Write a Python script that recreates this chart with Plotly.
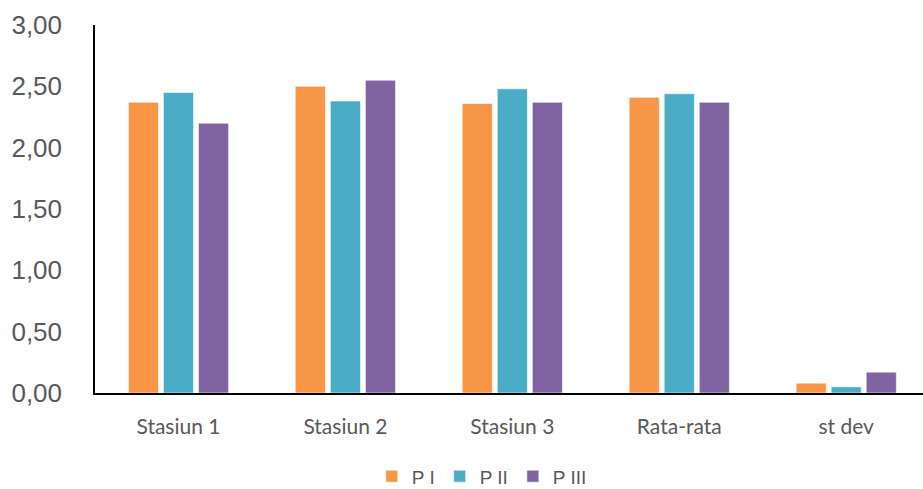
import plotly.graph_objects as go

# Data
categories = ["Stasiun 1", "Stasiun 2", "Stasiun 3", "Rata-rata", "st dev"]
p1 = [2.37, 2.50, 2.36, 2.41, 0.08]
p2 = [2.45, 2.38, 2.48, 2.44, 0.05]
p3 = [2.20, 2.55, 2.37, 2.37, 0.17]
series_names = ["P I", "P II", "P III"]
colors = ["#F79646", "#4BACC6", "#8064A2"]
y_ticks = [0, 0.5, 1.0, 1.5, 2.0, 2.5, 3.0]
y_tick_text = ["0,00", "0,50", "1,00", "1,50", "2,00", "2,50", "3,00"]

fig = go.Figure()
for name, vals, col in zip(series_names, [p1, p2, p3], colors):
    fig.add_trace(go.Bar(
        x=categories, y=vals, name=name,
        marker=dict(color=col, line=dict(color="rgba(255,255,255,0.6)", width=1)),
    ))

fig.update_layout(
    width=923, height=489,
    margin=dict(l=95, r=0, t=25, b=95.5),
    paper_bgcolor="white", plot_bgcolor="white",
    barmode="group", bargap=0.37, bargroupgap=0.14,
    showlegend=True,
    legend=dict(
        orientation="h", xref="container", yref="container",
        x=0.522, xanchor="center", y=0.026, yanchor="middle",
        font=dict(family="Liberation Sans, Arial", size=19, color="#595959"),
        itemwidth=30, traceorder="normal",
    ),
    xaxis=dict(
        range=[-0.5, 4.46], showgrid=False, zeroline=False,
        showline=True, linecolor="black", linewidth=1.5,
        ticks="", ticklabelstandoff=14,
        tickfont=dict(family="Lato, Calibri, sans-serif", size=21, color="#595959"),
    ),
    yaxis=dict(
        range=[0, 3], tickvals=y_ticks, ticktext=y_tick_text,
        showgrid=False, zeroline=False,
        showline=True, linecolor="black", linewidth=1.5,
        ticks="", ticklabelstandoff=26,
        tickfont=dict(family="Liberation Sans, Arial", size=26, color="#595959"),
    ),
)

fig.write_html("out.html")
